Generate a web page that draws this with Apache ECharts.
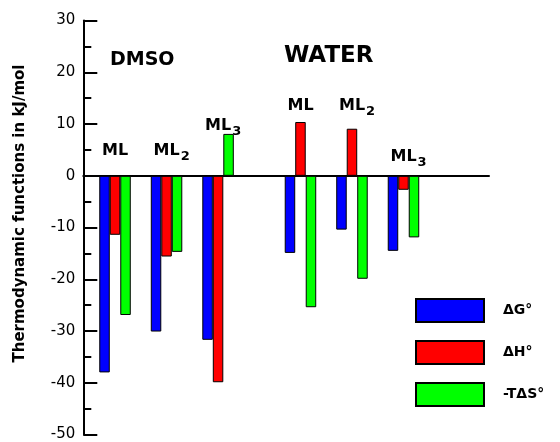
<!DOCTYPE html>
<html><head><meta charset="utf-8">
<script src="https://cdn.jsdelivr.net/npm/echarts@6/dist/echarts.min.js"></script>
<style>html,body{margin:0;padding:0;background:#fff}#c{width:560px;height:442px}</style>
</head><body><div id="c"></div>
<script>
// ---- data ----
const groupPos = [1, 2, 3, 4.6, 5.6, 6.6];           // x position of each complex group
const groupLabels = ['ML', 'ML2', 'ML3', 'ML', 'ML2', 'ML3'];
const groupLabelY = [4.8, 4.8, 9.65, 13.5, 13.5, 3.7];  // y value where each group label sits
const seriesNames = ['ΔG°', 'ΔH°', '-TΔS°'];
const dG  = [-38.0, -30.1, -31.7, -14.9, -10.4, -14.5];
const dH  = [-11.4, -15.6, -39.9,  10.4,   9.1,  -2.7];
const TdS = [-26.9, -14.7,   8.1, -25.4, -19.9, -11.9];
const solvents = ['DMSO', 'WATER'];
const solventX = [0.902, 4.281];
const solventY = [22.3, 23.2];
const yMin = -50, yMax = 30, yStep = 10;
const yTitle = 'Thermodynamic functions in kJ/mol';

const colors = ['#0000ff', '#ff0000', '#00ff00'];
const FONT = 'DejaVu Sans';

const chart = echarts.init(document.getElementById('c'), null, {renderer: 'canvas'});

function barSeries(name, vals, color) {
  return {
    name, type: 'bar', barWidth: 10.5, barGap: '0%',
    data: groupPos.map((x, i) => [x, vals[i]]),
    itemStyle: {color, borderColor: '#000', borderWidth: 1},
    z: 3
  };
}

const option = {
  animation: false,
  backgroundColor: '#fff',
  grid: {left: 83.3, right: 71, top: 20.6, bottom: 7, containLabel: false},
  xAxis: {
    type: 'value', min: 0.384, max: 8.26,
    axisLine: {show: true, onZero: true, lineStyle: {color: '#000', width: 2}},
    axisTick: {show: false}, axisLabel: {show: false}, splitLine: {show: false}
  },
  yAxis: {
    type: 'value', min: yMin, max: yMax, interval: yStep,
    axisLine: {show: true, lineStyle: {color: '#000', width: 2}},
    axisTick: {show: true, inside: true, length: 14, lineStyle: {color: '#000', width: 2}},
    minorTick: {show: true, splitNumber: 2, length: 8, lineStyle: {color: '#000', width: 2}},
    axisLabel: {fontFamily: FONT, fontSize: 15, color: '#000', margin: 8},
    splitLine: {show: false}
  },
  legend: {
    data: seriesNames, orient: 'vertical', left: 410, top: 293,
    itemWidth: 68, itemHeight: 23, itemGap: 17, icon: 'rect',
    textStyle: {fontFamily: FONT, fontWeight: 'bold', fontSize: 14, color: '#000', padding: [0, 0, 0, 14]}
  },
  graphic: [{
    type: 'text', x: 20.5, y: 213.5, rotation: Math.PI / 2,
    style: {text: yTitle, fontFamily: FONT, fontWeight: 'bold', fontSize: 15, fill: '#000',
            align: 'center', verticalAlign: 'middle'}
  }],
  series: [
    barSeries(seriesNames[0], dG, colors[0]),
    barSeries(seriesNames[1], dH, colors[1]),
    barSeries(seriesNames[2], TdS, colors[2]),
    {
      name: 'groupLabels', type: 'scatter', symbolSize: 0, silent: true, z: 5,
      itemStyle: {opacity: 1},
      data: groupPos.map((x, i) => ({value: [x, groupLabelY[i]], name: groupLabels[i]})),
      label: {
        show: true, position: 'inside', align: 'left', verticalAlign: 'middle', offset: [-13, 0],
        opacity: 1,
        formatter: p => {
          const m = p.name.match(/^ML(\d?)$/);
          return m && m[1] ? '{m|ML}{s|' + m[1] + '}' : '{m|' + p.name + '}';
        },
        rich: {
          m: {fontFamily: FONT, fontWeight: 'bold', fontSize: 16, color: '#000', lineHeight: 16, opacity: 1},
          s: {fontFamily: FONT, fontWeight: 'bold', fontSize: 13, color: '#000', lineHeight: 13, padding: [12, 0, 0, 1], opacity: 1}
        }
      }
    },
    {
      name: 'solvents', type: 'scatter', symbolSize: 0, silent: true, z: 5,
      itemStyle: {opacity: 1},
      data: solvents.map((s, i) => ({
        value: [solventX[i], solventY[i]], name: s,
        label: {fontSize: i === 0 ? 19 : 23}
      })),
      label: {
        show: true, position: 'inside', align: 'left', verticalAlign: 'middle', opacity: 1,
        formatter: p => p.name,
        fontFamily: FONT, fontWeight: 'bold', color: '#000'
      }
    }
  ]
};
chart.setOption(option);
</script>
</body></html>
